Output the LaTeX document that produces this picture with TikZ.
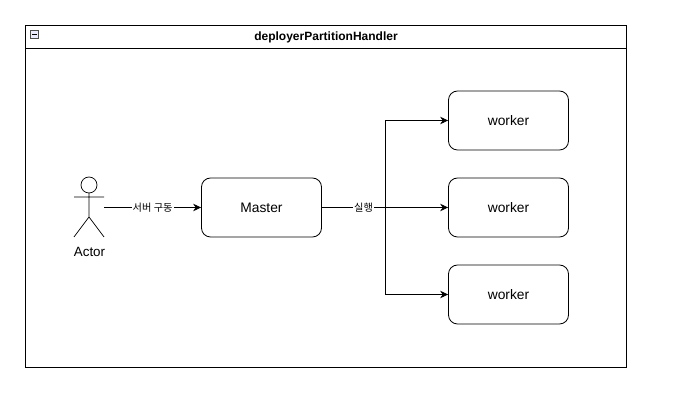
\documentclass[tikz,border=0pt]{standalone}
\usepackage{fontspec}
\setmainfont{Liberation Sans}
\newfontfamily\korean{Noto Sans CJK KR}
\usetikzlibrary{arrows.meta}
\tikzset{
  box/.style={draw=black, rounded corners=9pt, minimum width=120pt, minimum height=59pt, font=\fontsize{13.8}{16}\selectfont, line width=0.8pt},
  link/.style={-{Stealth[length=8pt,width=7.5pt]}, line width=0.7pt},
  linklabel/.style={fill=white, inner sep=1pt, font=\korean\fontsize{10.2}{12}\selectfont},
  frameline/.style={draw=black, line width=0.8pt},
}
\begin{document}
\begin{tikzpicture}[x=1pt, y=-1pt]
    \useasboundingbox (0,0) rectangle (673,411);
    \draw[frameline] (25.5,25.5) rectangle (626.5,367.5);
    \draw[frameline] (25.5,48.5) -- (626.5,48.5);
    \node[draw=black!70, fill=blue!8, minimum size=8pt, inner sep=0pt, line width=0.5pt] (toggle) at (34.5,34.5) {};
    \draw[line width=1pt] (32,34.5) -- (37,34.5);
    \node[font=\bfseries\fontsize{12}{14}\selectfont] (title) at (326,37) {deployerPartitionHandler};
    \node[minimum width=30pt, minimum height=60pt, inner sep=0pt] (actor) at (89,207) {};
    \draw[line width=0.7pt] (89,185) circle (8);
    \draw[line width=0.7pt] (89,193) -- (89,217) (74,197) -- (104,197) (74,237) -- (89,217) -- (104,237);
    \node[font=\fontsize{13.4}{16}\selectfont] (actorname) at (89.5,252) {Actor};
    \node[box] (master) at (261.5,207.5) {Master};
    \node[box] (worker1) at (508.5,120.5) {worker};
    \node[box] (worker2) at (508.5,207.5) {worker};
    \node[box] (worker3) at (508.5,294.5) {worker};
    \coordinate (split) at (385.7,207.5);
    \path [link] (actor.east |- master) edge node[linklabel, pos=0.5] {서버 구동} (master);
    \path [link] (master) edge node[linklabel, pos=0.33] {실행} (worker2);
    \draw [link] (split) |- (worker1);
    \draw [link] (split) |- (worker3);
  \end{tikzpicture}
\end{document}
